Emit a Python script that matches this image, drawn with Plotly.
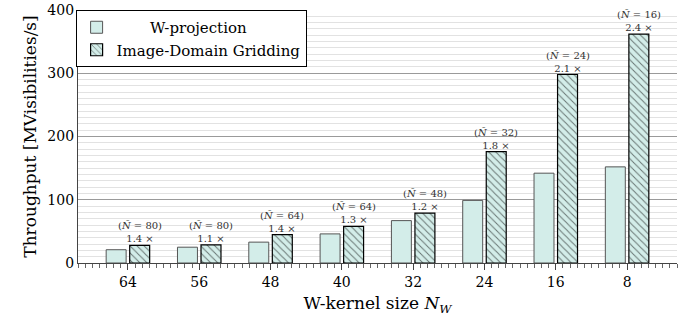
import plotly.graph_objects as go

kernel_sizes = ["64", "56", "48", "40", "32", "24", "16", "8"]
wproj = [21, 25, 33, 46, 67, 99, 142, 152]
idg = [28, 28.5, 45, 58, 79, 176, 298, 362]
n_tilde = [80, 80, 64, 64, 48, 32, 24, 16]
speedup = ["1.4", "1.1", "1.4", "1.3", "1.2", "1.8", "2.1", "2.4"]

FILL = "#d3ede9"
FONT = "DejaVu Serif"
xs = list(range(len(kernel_sizes)))

fig = go.Figure()
fig.add_trace(go.Bar(
    x=[x - 0.165 for x in xs], y=wproj, width=0.28,
    name="\u00a0\u00a0\u00a0\u00a0\u00a0\u00a0\u00a0W-projection",
    marker=dict(color=FILL, line=dict(color="#555555", width=1)),
))
fig.add_trace(go.Bar(
    x=[x + 0.165 for x in xs], y=idg, width=0.28, name="Image-Domain Gridding",
    marker=dict(color=FILL, line=dict(color="black", width=1.2),
                pattern=dict(shape="\\", fgcolor="black", bgcolor=FILL,
                             size=5, solidity=0.2)),
))

for x, v, n, s in zip(xs, idg, n_tilde, speedup):
    fig.add_annotation(
        x=x + 0.165, y=v, yanchor="bottom", xanchor="center", showarrow=False,
        text=f"(<i>Ñ</i> = {n})<br>{s}\u00a0×", yshift=-1,
        font=dict(family=FONT, size=10, color="#333333"),
    )

fig.update_layout(
    width=692, height=326,
    margin=dict(l=78, r=15, t=10, b=63, autoexpand=False),
    plot_bgcolor="white", paper_bgcolor="white",
    font=dict(family=FONT, size=14, color="black"),
    barmode="overlay",
    showlegend=True,
    legend=dict(x=-0.004, y=1, xanchor="left", yanchor="top",
                bgcolor="white", bordercolor="black", borderwidth=1,
                font=dict(family=FONT, size=15), itemwidth=30,
                tracegroupgap=0),
)
fig.update_xaxes(
    range=[-0.7, 7.7], tickmode="array", tickvals=xs, ticktext=kernel_sizes,
    ticks="outside", ticklen=6, tickcolor="#444444", showgrid=False,
    showline=True, linecolor="#444444", linewidth=1.2,
    minor=dict(ticks="outside", ticklen=4, dtick=0.1, tick0=0,
               tickcolor="#666666", showgrid=False),
    title=dict(text="W-kernel size <i>N</i><sub><i>W</i></sub>", standoff=8),
    zeroline=False, automargin=False,
)
fig.update_yaxes(
    range=[0, 400], dtick=100, showgrid=True, gridcolor="#9a9a9a", gridwidth=1,
    minor=dict(dtick=10, showgrid=True, gridcolor="#e2e2e2", gridwidth=1),
    showline=True, linecolor="#444444", linewidth=1.2, ticks="",
    title=dict(text="Throughput [MVisibilities/s]", standoff=6),
    zeroline=False, automargin=False,
)

fig.write_html("out.html")
